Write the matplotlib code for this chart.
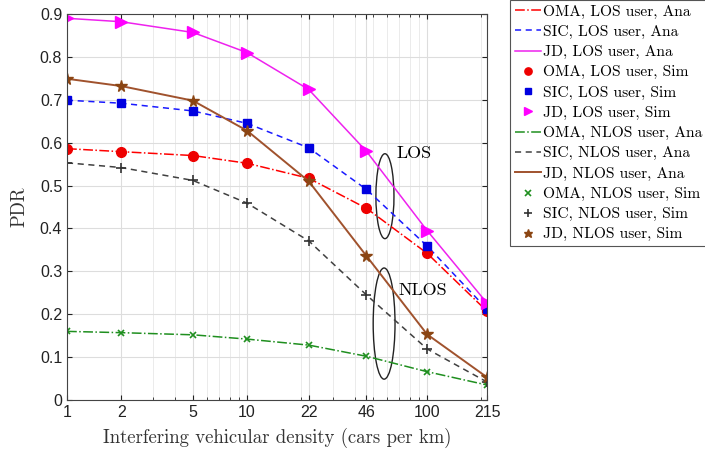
import numpy as np
import matplotlib
matplotlib.use("Agg")
import matplotlib.pyplot as plt
from matplotlib.patches import Ellipse
from matplotlib.ticker import NullFormatter

density = [1, 2, 5, 10, 22, 46, 100, 215]
density_labels = ["1", "2", "5", "10", "22", "46", "100", "215"]

oma_los = [0.586, 0.579, 0.570, 0.552, 0.517, 0.447, 0.342, 0.207]
sic_los = [0.699, 0.692, 0.674, 0.645, 0.588, 0.491, 0.359, 0.212]
jd_los = [0.890, 0.882, 0.857, 0.810, 0.724, 0.580, 0.395, 0.226]
oma_nlos = [0.160, 0.157, 0.152, 0.142, 0.128, 0.102, 0.066, 0.035]
sic_nlos = [0.553, 0.542, 0.512, 0.459, 0.371, 0.245, 0.119, 0.042]
jd_nlos = [0.749, 0.732, 0.698, 0.628, 0.510, 0.336, 0.153, 0.053]

serif = "cmr10"
sans = "Liberation Sans"

fig = plt.figure(figsize=(7.05, 4.55), dpi=100)
ax = fig.add_axes([67 / 705, 55 / 455, 420 / 705, 386 / 455])

lw = 1.1
# analytical curves
ax.plot(density, oma_los, color="#ff0000", ls="-.", lw=lw, label="OMA, LOS user, Ana")
ax.plot(density, sic_los, color="#1a1aff", ls=(0, (4, 3)), lw=lw, label="SIC, LOS user, Ana")
ax.plot(density, jd_los, color="#ee22ee", ls="-", lw=lw, label="JD, LOS user, Ana")
# simulation points
ax.plot(density, oma_los, ls="none", marker="o", ms=7, color="#ee0000", label="OMA, LOS user, Sim")
ax.plot(density, sic_los, ls="none", marker="s", ms=6, color="#0000e0", label="SIC, LOS user, Sim")
ax.plot(density, jd_los, ls="none", marker=">", ms=8, color="#ff00ff", label="JD, LOS user, Sim")

ax.plot(density, oma_nlos, color="#1f8f1f", ls="-.", lw=lw, label="OMA, NLOS user, Ana")
ax.plot(density, sic_nlos, color="#404040", ls=(0, (4, 3)), lw=lw, label="SIC, NLOS user, Ana")
ax.plot(density, jd_nlos, color="#a0522d", ls="-", lw=1.4, label="JD, NLOS user, Ana")
ax.plot(density, oma_nlos, ls="none", marker="x", ms=5, mew=1.2, color="#1f8f1f", label="OMA, NLOS user, Sim")
ax.plot(density, sic_nlos, ls="none", marker="+", ms=7, mew=1.2, color="#333333", label="SIC, NLOS user, Sim")
ax.plot(density, jd_nlos, ls="none", marker="*", ms=8.5, color="#8b4513", label="JD, NLOS user, Sim")

ax.set_xscale("log")
ax.set_xlim(1, 215)
ax.set_ylim(0, 0.9)
ax.set_xticks(density)
ax.set_xticklabels(density_labels)
ax.xaxis.set_minor_formatter(NullFormatter())
ax.set_yticks(np.arange(0, 0.91, 0.1))
ax.set_yticklabels(["0"] + ["%.1f" % v for v in np.arange(0.1, 0.91, 0.1)])

ax.grid(True, which="major", color="#dddddd", lw=0.8)
ax.grid(True, which="minor", axis="x", color="#e8e8e8", lw=0.6)
ax.set_axisbelow(True)
ax.tick_params(which="both", direction="in", top=True, right=True, labelsize=11.5,
               colors="#222222", labelcolor="#222222")
for lab in ax.get_xticklabels() + ax.get_yticklabels():
    lab.set_fontfamily(sans)
for s in ax.spines.values():
    s.set_color("#444444")
    s.set_linewidth(0.8)

ax.set_xlabel("Interfering vehicular density (cars per km)", fontfamily=serif, fontsize=13.5,
              color="#333333", labelpad=6)
ax.set_ylabel("PDR", fontfamily=serif, fontsize=13.5, color="#333333", labelpad=8)

# group markers
ax.add_patch(Ellipse((0.757, 0.528), 0.043, 0.22, transform=ax.transAxes,
                     fill=False, ec="#222222", lw=1.0))
ax.add_patch(Ellipse((0.755, 0.198), 0.052, 0.288, transform=ax.transAxes,
                     fill=False, ec="#222222", lw=1.0))
ax.text(68, 0.575, "LOS", fontfamily=serif, fontsize=13, va="center", ha="left")
ax.text(69, 0.256, "NLOS", fontfamily=serif, fontsize=13, va="center", ha="left")

leg = ax.legend(loc="upper left", bbox_to_anchor=(510 / 705, 1.0), bbox_transform=fig.transFigure,
                prop={"family": serif, "size": 11.2}, handlelength=1.7, handletextpad=0.15,
                labelspacing=0.4, borderaxespad=0, borderpad=0.3, fancybox=False,
                markerscale=0.75, framealpha=1, edgecolor="#555555")
leg.get_frame().set_linewidth(0.8)

fig.savefig("out.png", dpi=100)
